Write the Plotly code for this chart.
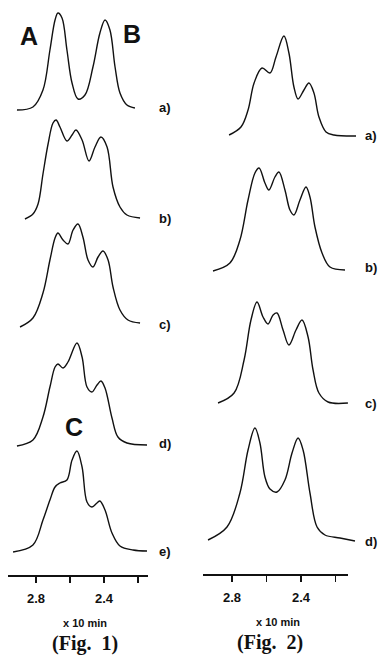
import plotly.graph_objects as go

W, H = 382, 660

# ---------------- data (retention time, x 10 min ; detector response, arbitrary units) ----
fig1_a_t = [2.912, 2.818, 2.759, 2.718, 2.688, 2.671, 2.647, 2.618, 2.588, 2.553, 2.512, 2.465, 2.424, 2.394, 2.365, 2.335, 2.306, 2.265, 2.218]
fig1_a_y = [0, 3, 20, 60, 90, 97, 92, 60, 27, 11, 15, 43, 77, 90, 80, 43, 17, 5, 2]

fig1_b_t = [2.865, 2.818, 2.788, 2.759, 2.729, 2.700, 2.682, 2.659, 2.618, 2.588, 2.565, 2.529, 2.488, 2.453, 2.418, 2.382, 2.347, 2.306, 2.265, 2.188]
fig1_b_y = [0, 5, 15, 45, 75, 96, 99, 92, 78, 84, 89, 79, 58, 72, 82, 72, 32, 12, 4, 1]

fig1_c_t = [2.894, 2.818, 2.759, 2.718, 2.688, 2.671, 2.641, 2.612, 2.582, 2.553, 2.524, 2.494, 2.465, 2.435, 2.406, 2.376, 2.347, 2.306, 2.259, 2.188]
fig1_c_y = [0, 9, 34, 67, 89, 94, 87, 83, 97, 103, 90, 67, 60, 70, 76, 67, 40, 17, 7, 4]

fig1_d_t = [2.912, 2.818, 2.759, 2.718, 2.688, 2.671, 2.641, 2.612, 2.559, 2.529, 2.500, 2.471, 2.441, 2.418, 2.394, 2.353, 2.318, 2.265, 2.147]
fig1_d_y = [0, 6, 29, 59, 79, 82, 78, 84, 103, 89, 59, 54, 61, 65, 58, 28, 9, 3, 1]

fig1_e_t = [2.935, 2.818, 2.759, 2.718, 2.688, 2.659, 2.618, 2.588, 2.559, 2.529, 2.500, 2.471, 2.441, 2.424, 2.394, 2.353, 2.306, 2.229, 2.147]
fig1_e_y = [0, 7, 32, 52, 65, 69, 72, 92, 101, 85, 50, 45, 49, 51, 42, 19, 6, 2, 1]

fig2_a_t = [2.817, 2.748, 2.707, 2.672, 2.626, 2.580, 2.545, 2.499, 2.470, 2.441, 2.417, 2.383, 2.354, 2.325, 2.296, 2.255, 2.209, 2.081]
fig2_a_y = [1, 9, 26, 53, 68, 63, 79, 100, 83, 49, 37, 46, 53, 43, 19, 4, 1, 0]

fig2_b_t = [2.910, 2.812, 2.754, 2.707, 2.667, 2.643, 2.609, 2.586, 2.551, 2.528, 2.493, 2.464, 2.441, 2.406, 2.371, 2.348, 2.319, 2.278, 2.232, 2.145]
fig2_b_y = [0, 8, 31, 71, 98, 103, 88, 81, 94, 99, 81, 61, 56, 71, 84, 74, 44, 18, 4, 1]

fig2_c_t = [2.881, 2.788, 2.730, 2.690, 2.655, 2.620, 2.591, 2.562, 2.539, 2.504, 2.470, 2.429, 2.394, 2.359, 2.330, 2.296, 2.243, 2.128]
fig2_c_y = [0, 10, 43, 83, 101, 86, 79, 88, 90, 73, 58, 73, 83, 66, 33, 10, 1, 0]

fig2_d_t = [2.939, 2.829, 2.754, 2.707, 2.667, 2.638, 2.609, 2.580, 2.539, 2.493, 2.452, 2.417, 2.388, 2.348, 2.307, 2.261, 2.174, 2.087]
fig2_d_y = [1, 14, 48, 91, 113, 98, 64, 52, 49, 61, 88, 103, 91, 48, 14, 6, 3, 0]

tick_vals = [2.8, 2.6, 2.4, 2.2]
tick_text = ["2.8", "", "2.4", ""]
axis_title = "x 10 min"
fig_titles = ["(Fig.  1)", "(Fig.  2)"]
run_labels_1 = ["a)", "b)", "c)", "d)", "e)"]
run_labels_2 = ["a)", "b)", "c)", "d)"]
peak_labels = ["A", "B", "C"]

# ---------------- layout helpers ----------------
def px_x(p):
    return p / W

def px_y(p):
    return 1 - p / H

# baseline (pixel row) of each stacked chromatogram
base1 = [110, 219, 327, 446, 552]
base2 = [136, 271, 403, 541]

fig = go.Figure()
line = dict(color="#111111", width=1.4, shape="spline", smoothing=1.0)

fig1_series = [(fig1_a_t, fig1_a_y), (fig1_b_t, fig1_b_y), (fig1_c_t, fig1_c_y), (fig1_d_t, fig1_d_y), (fig1_e_t, fig1_e_y)]
fig2_series = [(fig2_a_t, fig2_a_y), (fig2_b_t, fig2_b_y), (fig2_c_t, fig2_c_y), (fig2_d_t, fig2_d_y)]

for (t, y), b in zip(fig1_series, base1):
    fig.add_trace(go.Scatter(x=t, y=[v + (H - b) for v in y], mode="lines", line=line,
                             xaxis="x", yaxis="y", showlegend=False, hoverinfo="skip"))
for (t, y), b in zip(fig2_series, base2):
    fig.add_trace(go.Scatter(x=t, y=[v + (H - b) for v in y], mode="lines", line=line,
                             xaxis="x2", yaxis="y", showlegend=False, hoverinfo="skip"))
# empty traces to attach the visible time axes
fig.add_trace(go.Scatter(x=[], y=[], xaxis="x3", yaxis="y", showlegend=False, hoverinfo="skip"))
fig.add_trace(go.Scatter(x=[], y=[], xaxis="x4", yaxis="y", showlegend=False, hoverinfo="skip"))

def v1(p):
    return 2.8 - (p - 36) / 170.0

def v2(p):
    return 2.8 - (p - 232) / 172.5

hidden = dict(visible=False, fixedrange=True)
vis = dict(showline=True, linecolor="#111111", linewidth=1.6, ticks="outside", ticklen=6,
           tickwidth=1.6, tickcolor="#111111", showgrid=False, zeroline=False,
           tickvals=tick_vals, ticktext=tick_text, anchor="free", ticklabelstandoff=5,
           tickfont=dict(family="Liberation Sans, Arial", size=13, color="#111111", weight="bold"),
           fixedrange=True)

fig.update_layout(
    width=W, height=H, margin=dict(l=0, r=0, t=0, b=0),
    paper_bgcolor="white", plot_bgcolor="rgba(0,0,0,0)",
    xaxis=dict(domain=[0, px_x(191)], range=[v1(0), v1(191)], **hidden),
    xaxis2=dict(domain=[px_x(191), 1], range=[v2(191), v2(382)], **hidden),
    xaxis3=dict(domain=[px_x(8), px_x(148)], range=[v1(8), v1(148)], position=px_y(575), **vis),
    xaxis4=dict(domain=[px_x(203), px_x(348)], range=[v2(203), v2(348)], position=px_y(574), **vis),
    yaxis=dict(domain=[0, 1], range=[0, H], **hidden),
)

ann = []
def label(text, x, y, size, family="Liberation Sans, Arial", bold=True):
    t = f"<b>{text}</b>" if bold else text
    ann.append(dict(text=t, x=px_x(x), y=px_y(y), xref="paper", yref="paper",
                    showarrow=False, xanchor="center", yanchor="middle",
                    font=dict(family=family, size=size, color="#111111")))

for lab, yy in zip(run_labels_1, [108, 218, 324, 443, 551]):
    label(lab, 165, yy, 13)
for lab, yy in zip(run_labels_2, [135, 268, 403, 541]):
    label(lab, 371, yy, 13)
label(peak_labels[0], 29, 36, 25)
label(peak_labels[1], 132, 34, 25)
label(peak_labels[2], 74, 427, 25)
label(axis_title, 85, 623, 11)
label(axis_title, 278, 622, 11)
label(fig_titles[0], 85, 643, 20, family="Liberation Serif, Times New Roman")
label(fig_titles[1], 270, 642, 20, family="Liberation Serif, Times New Roman")
fig.update_layout(annotations=ann)

fig.write_html("out.html", config={"displayModeBar": False, "staticPlot": True},
               post_script="document.body.style.margin='0';document.body.style.overflow='hidden';")
